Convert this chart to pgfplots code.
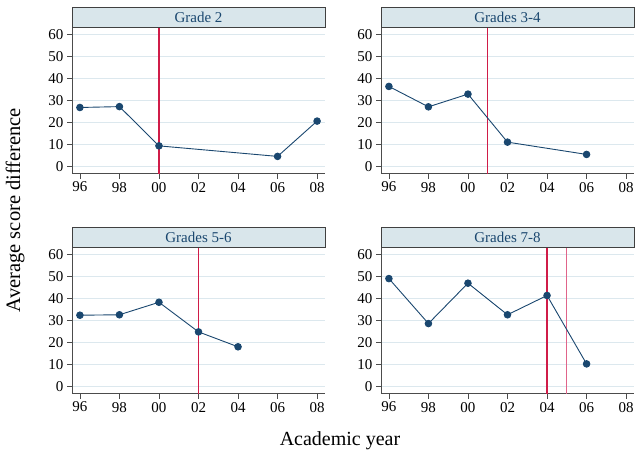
\documentclass[border=0pt]{standalone}
\usepackage{fontspec}
\setmainfont{Liberation Serif}
\usepackage{pgfplots}
\pgfplotsset{compat=1.18}
\definecolor{navy}{HTML}{1A476F}
\definecolor{gridc}{HTML}{DCE8EE}
\definecolor{titlebg}{HTML}{D9E6EB}
\definecolor{vred}{HTML}{D01C48}
\definecolor{vpink}{HTML}{E0648A}
\pgfplotsset{
 panel/.style={
  scale only axis, width=253pt, height=146.5pt,
  xmin=1995.6, xmax=2008.4, ymin=-3.2, ymax=63.6,
  axis x line*=bottom, axis y line*=left,
  axis line style={-, draw=black!70, line width=0.8pt},
  xtick={1996,1998,...,2008}, xticklabels={96,98,00,02,04,06,08},
  ytick={0,10,...,60},
  tick align=outside, major tick length=5pt,
  tick style={black!70, line width=0.8pt},
  ymajorgrids, grid style={gridc, line width=1pt},
  tick label style={font=\fontsize{15}{15}\selectfont},
  /pgf/number format/assume math mode=true,
  clip=false,
  anchor=north west,
 },
 dataline/.style={navy, line width=0.9pt, mark=*, mark size=3.3pt, mark options={fill=navy, draw=navy}},
}
\newcommand{\titlebar}[1]{%
  \draw[fill=titlebg, draw=black!75, line width=0.8pt] (rel axis cs:0,1) rectangle ([yshift=20pt]rel axis cs:1,1);
  \node[font=\fontsize{15}{15}\selectfont, text=navy] at ([yshift=10pt]rel axis cs:0.5,1) {#1};
}
\begin{document}
\begin{tikzpicture}
\useasboundingbox (0,0) rectangle (637pt,-455pt);
% Panel 1
\begin{axis}[panel, at={(72pt,-27pt)}]
\addplot[vred, line width=1.2pt] coordinates {(2000,-3.2) (2000,63.6)};
\addplot[dataline] coordinates {(1996,26.9) (1998,27.3) (2000,9.4) (2006,4.6) (2008,20.7)};
\titlebar{Grade 2}
\end{axis}
% Panel 2
\begin{axis}[panel, at={(381pt,-27pt)}]
\addplot[vred, line width=1.2pt] coordinates {(2001,-3.2) (2001,63.6)};
\addplot[dataline] coordinates {(1996,36.5) (1998,27.2) (2000,33.0) (2002,11.1) (2006,5.5)};
\titlebar{Grades 3-4}
\end{axis}
% Panel 3
\begin{axis}[panel, at={(72pt,-247pt)}]
\addplot[vred, line width=1.2pt] coordinates {(2002,-3.2) (2002,63.6)};
\addplot[dataline] coordinates {(1996,32.5) (1998,32.7) (2000,38.4) (2002,24.9) (2004,18.1)};
\titlebar{Grades 5-6}
\end{axis}
% Panel 4
\begin{axis}[panel, at={(381pt,-247pt)}]
\addplot[vred, line width=1.2pt] coordinates {(2004,-3.2) (2004,63.6)};
\addplot[vpink, line width=1.2pt] coordinates {(2005,-3.2) (2005,63.6)};
\addplot[dataline] coordinates {(1996,49.2) (1998,28.7) (2000,47.1) (2002,32.7) (2004,41.5) (2006,10.3)};
\titlebar{Grades 7-8}
\end{axis}
\node[rotate=90, font=\fontsize{20.5}{20.5}\selectfont] at (15pt,-210pt) {Average score difference};
\node[font=\fontsize{20}{20}\selectfont] at (340pt,-441pt) {Academic year};
\end{tikzpicture}
\end{document}
